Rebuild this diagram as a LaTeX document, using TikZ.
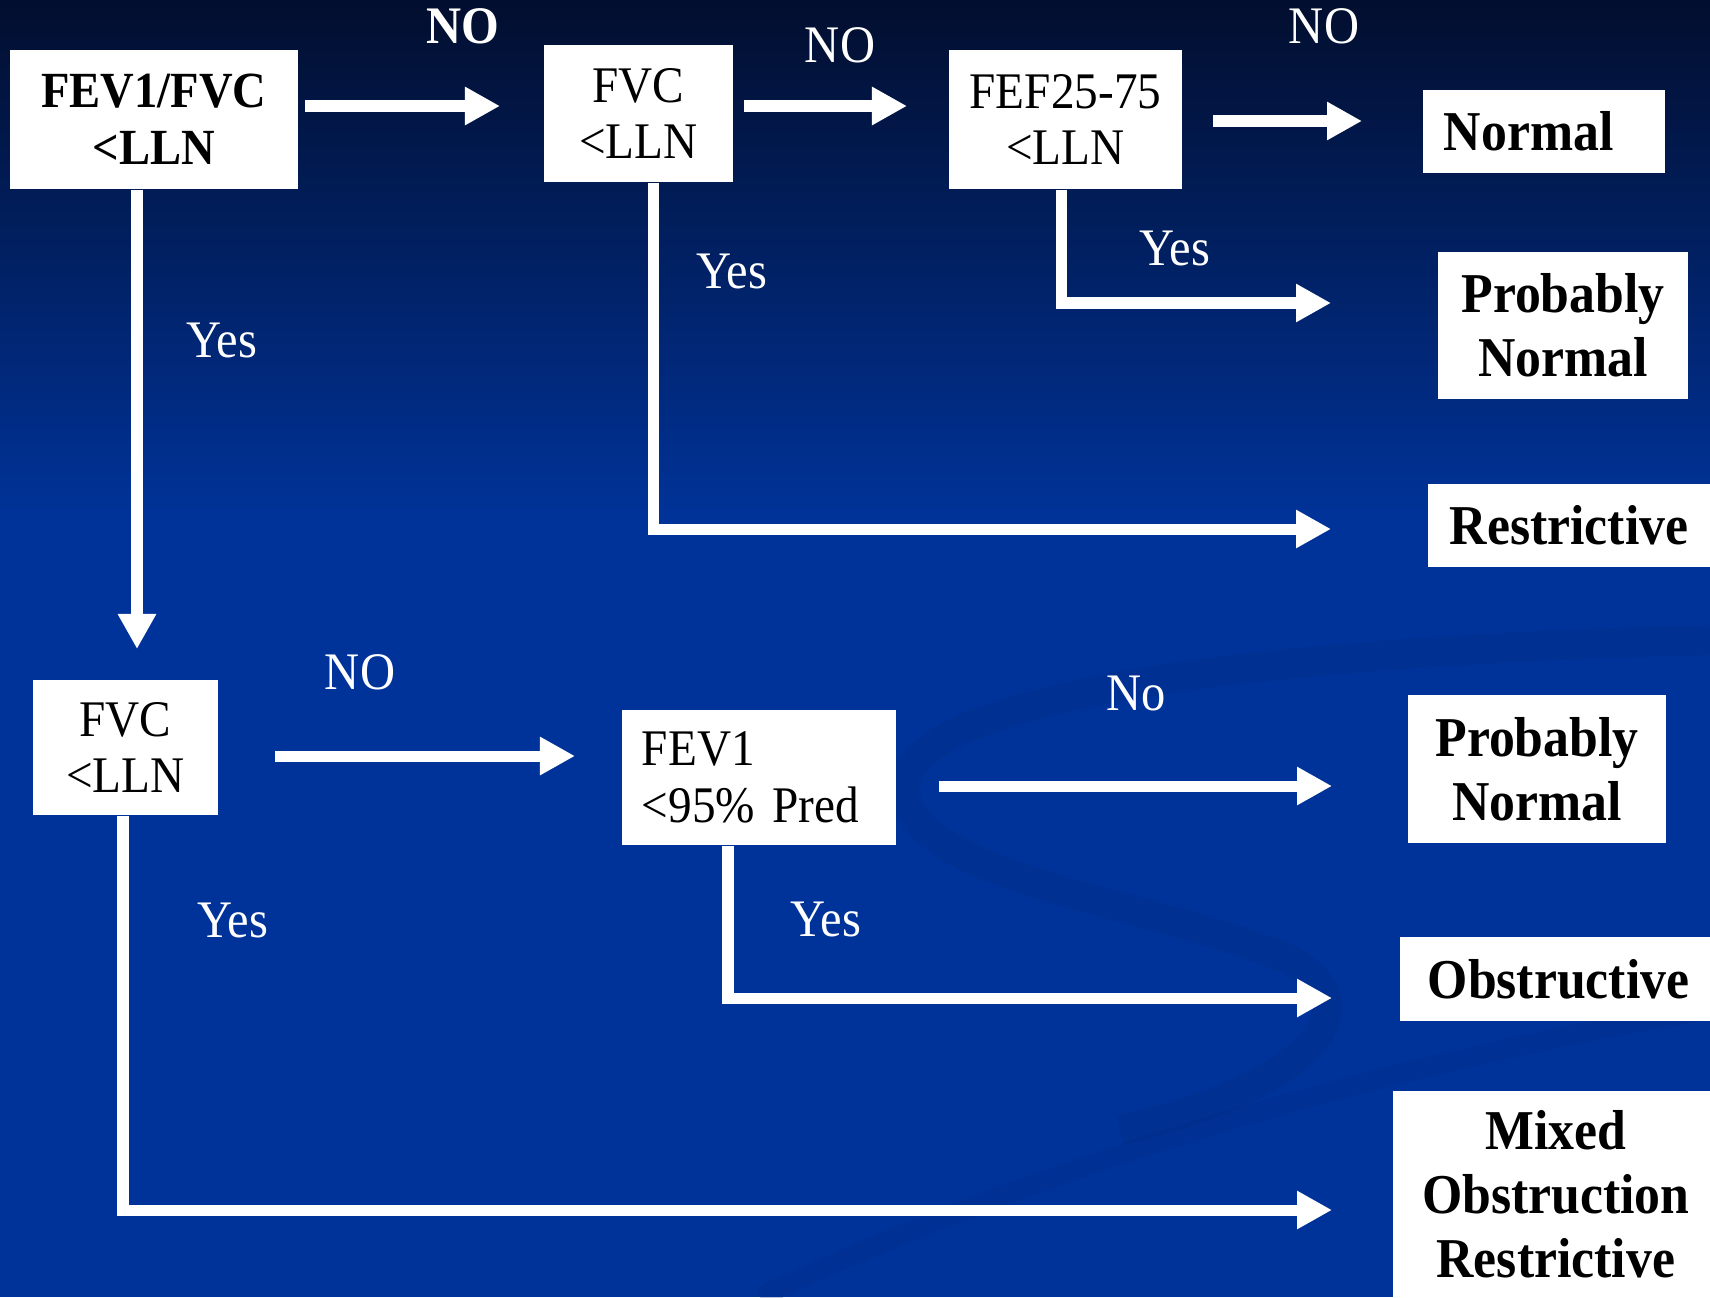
\documentclass[tikz,border=0pt]{standalone}
\usepackage{fontspec}
\setmainfont{Liberation Serif}[FakeStretch=0.92]
\usetikzlibrary{arrows.meta}
\definecolor{slidetop}{RGB}{2,14,46}
\definecolor{slidemid}{RGB}{3,38,112}
\definecolor{slideblue}{RGB}{0,51,153}
\definecolor{swirlblue}{RGB}{0,42,132}
\begin{document}
\begin{tikzpicture}[x=0.01cm,y=-0.01cm,
  box/.style={fill=white,text=black,inner sep=0pt,align=center},
  qbold/.style={box,font=\fontsize{14.4}{16.2}\selectfont\bfseries},
  qtext/.style={box,font=\fontsize{14.6}{16.2}\selectfont},
  result/.style={box,font=\fontsize{16}{18.2}\selectfont\bfseries},
  lbl/.style={text=white,anchor=base,inner sep=0pt,font=\fontsize{15}{18}\selectfont},
  flow/.style={draw=white,line width=0.11cm,-{Triangle[length=0.35cm,width=0.36cm]}}]

\useasboundingbox (0,0) rectangle (1710,1297);
\clip (0,0) rectangle (1710,1297);
\fill [slideblue] (0,0) rectangle (1710,1297);
\shade [top color=slidetop,middle color=slidemid,bottom color=slideblue] (0,0) rectangle (1710,520);
\draw [swirlblue,line width=0.3cm,opacity=0.3] (1710,640) .. controls (1300,650) and (900,690) .. (905,790) .. controls (910,880) and (1150,900) .. (1290,960) .. controls (1380,1010) and (1300,1090) .. (1120,1130);
\draw [swirlblue,line width=0.2cm,opacity=0.25] (760,1297) .. controls (1050,1160) and (1400,1060) .. (1710,1010);

\node [qbold,minimum width=2.88cm,minimum height=1.39cm] (q1) at (154,119.5) {FEV1/FVC\\<LLN};
\node [qtext,minimum width=1.89cm,minimum height=1.37cm] (q2) at (638.5,113.5) {FVC\\<LLN};
\node [qtext,minimum width=2.33cm,minimum height=1.39cm] (q3) at (1065.5,119.5) {FEF25-75\\<LLN};
\node [qtext,minimum width=1.85cm,minimum height=1.35cm] (q4) at (125.5,747.5) {FVC\\<LLN};
\node [qtext,align=left,text width=2.34cm,inner xsep=0.2cm,minimum height=1.35cm] (q5) at (759,777.5) {FEV1\\<95\% Pred};

\node [result,align=left,text width=2.0cm,inner xsep=0.21cm,minimum height=0.83cm] (r1) at (1544,131.5) {Normal};
\node [result,minimum width=2.5cm,minimum height=1.47cm] (r2) at (1563,325.5) {Probably\\Normal};
\node [result,anchor=west,align=left,text width=2.7cm,inner xsep=0.22cm,minimum height=0.83cm] (r3) at (1427,525.5) {Restrictive};
\node [result,minimum width=2.58cm,minimum height=1.48cm] (r4) at (1537,769) {Probably\\Normal};
\node [result,anchor=west,align=left,text width=2.8cm,inner xsep=0.28cm,minimum height=0.84cm] (r5) at (1399,979) {Obstructive};
\node [result,anchor=north west,minimum width=3.26cm,minimum height=2.07cm] (r6) at (1392,1090) {Mixed\\Obstruction\\Restrictive};

\coordinate (t1) at (500,106);
\coordinate (t2) at (907,106);
\coordinate (t3) at (1362,121);
\coordinate (t4) at (137,649);
\coordinate (t5) at (1331,303);
\coordinate (t6) at (1331,529);
\coordinate (t7) at (575,756);
\coordinate (t8) at (1332,786);
\coordinate (t9) at (1332,998);
\coordinate (t10) at (1332,1210);

\draw [flow,shorten <=0.06cm] (q1.east |- t1) -- (t1);
\draw [flow,shorten <=0.1cm] (q2.east |- t2) -- (t2);
\draw [flow,shorten <=0.3cm] (q3.east |- t3) -- (t3);
\draw [flow] (q1.south -| t4) -- (t4);
\draw [flow] ([xshift=-0.045cm]q3.south) |- (t5);
\draw [flow] ([xshift=0.145cm]q2.south) |- (t6);
\draw [flow,shorten <=0.56cm] (q4.east |- t7) -- (t7);
\draw [flow,shorten <=0.42cm] (q5.east |- t8) -- (t8);
\draw [flow] ([xshift=-0.31cm]q5.south) |- (t9);
\draw [flow] ([xshift=-0.025cm]q4.south) |- (t10);

\node [lbl,font=\fontsize{15}{18}\selectfont\bfseries] (l1) at (463,44) {NO};
\node [lbl] (l2) at (840,63) {NO};
\node [lbl] (l3) at (1324,44) {NO};
\node [lbl] (l4) at (222,357) {Yes};
\node [lbl] (l5) at (732,288) {Yes};
\node [lbl] (l6) at (1175,265) {Yes};
\node [lbl] (l7) at (360,689) {NO};
\node [lbl] (l8) at (1136,710) {No};
\node [lbl] (l9) at (233,937) {Yes};
\node [lbl] (l10) at (826,936) {Yes};

\end{tikzpicture}
\end{document}
